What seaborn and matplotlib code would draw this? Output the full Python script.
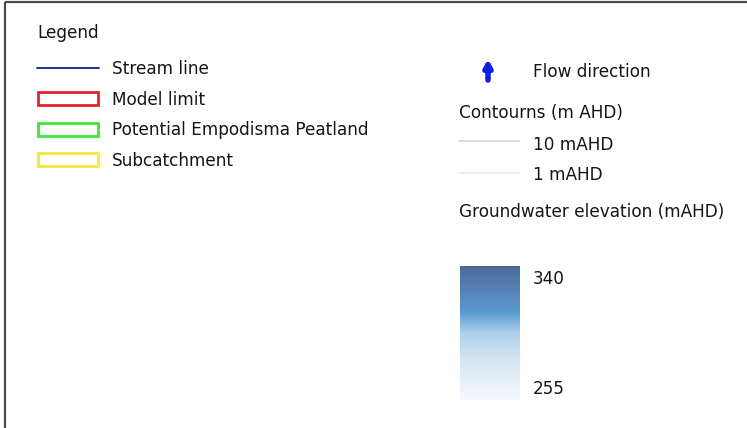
import matplotlib
matplotlib.use("Agg")
import matplotlib.pyplot as plt
import matplotlib.patches as mpatches
from matplotlib.colors import LinearSegmentedColormap, Normalize
from matplotlib.cm import ScalarMappable
import seaborn as sns

# legend content
left_labels = ["Stream line", "Model limit", "Potential Empodisma Peatland", "Subcatchment"]
left_kinds = ["line", "box", "box", "box"]
left_colors = ["#1c3596", "#e5222b", "#3fe33a", "#f2e83c"]

contour_levels = [10, 1]
contour_colors = ["#d6d6d6", "#ebebeb"]

elev_min, elev_max = 255, 340
ramp_colors = ["#f5f8fc", "#d6e5f3", "#aecfea", "#83b6de", "#5a9bd0", "#5583b6", "#4b6b97"]
ramp_stops = [0.0, 0.3, 0.5, 0.58, 0.65, 0.82, 1.0]

sns.set_style("white")
plt.rcParams["font.family"] = ["DejaVu Sans"]
FS = 12.2
TXT = "#151515"

fig = plt.figure(figsize=(7.47, 4.28), dpi=100)
ax = fig.add_axes([0, 0, 1, 1])
# work in pixel coordinates of the 747x428 canvas
ax.set_xlim(0, 747)
ax.set_ylim(428, 0)
ax.axis("off")

# frame (left and top only visible)
ax.plot([4.5, 4.5], [1.5, 428], color="#4a4a4a", lw=1.6, solid_capstyle="butt")
ax.plot([4.5, 747], [1.5, 1.5], color="#4a4a4a", lw=1.6, solid_capstyle="butt")

# left column
ax.text(37, 37.5, "Legend", fontsize=FS, color=TXT, va="baseline")
rows = [67.5, 98, 129, 159]
baselines = [74, 104.5, 135, 165.5]
for lab, kind, col, yc, yb in zip(left_labels, left_kinds, left_colors, rows, baselines):
    if kind == "line":
        ax.plot([37, 99], [yc, yc], color=col, lw=1.4)
    else:
        ax.add_patch(mpatches.Rectangle((38, yc - 6.5), 60, 13, fill=False,
                                        edgecolor=col, lw=2.0))
    ax.text(112, yb, lab, fontsize=FS, color=TXT, va="baseline")

# right column
ax.annotate("", xy=(488, 59), xytext=(488, 80),
            arrowprops=dict(arrowstyle="-|>,head_length=0.4,head_width=0.22",
                            color="#0b1fe0", lw=4, shrinkA=0, shrinkB=0))
ax.text(533, 76.5, "Flow direction", fontsize=FS, color=TXT, va="baseline")
ax.text(459, 118, "Contourns (m AHD)", fontsize=FS, color=TXT, va="baseline")
for lvl, col, yc, yb in zip(contour_levels, contour_colors, [141, 173], [150, 180]):
    ax.plot([459, 519], [yc, yc], color=col, lw=1.2)
    ax.text(533, yb, f"{lvl} mAHD", fontsize=FS, color=TXT, va="baseline")
ax.text(459, 216.5, "Groundwater elevation (mAHD)", fontsize=FS, color=TXT, va="baseline")

# groundwater elevation ramp
cmap = LinearSegmentedColormap.from_list("gw", list(zip(ramp_stops, ramp_colors)))
cax = fig.add_axes([460 / 747, 1 - 400 / 428, 60 / 747, 134 / 428])
cb = fig.colorbar(ScalarMappable(norm=Normalize(elev_min, elev_max), cmap=cmap),
                  cax=cax, orientation="vertical")
cb.outline.set_visible(False)
cb.set_ticks([])
ax.text(533, 284, str(elev_max), fontsize=FS, color=TXT, va="baseline")
ax.text(533, 394, str(elev_min), fontsize=FS, color=TXT, va="baseline")

fig.savefig("out.png", dpi=100)
